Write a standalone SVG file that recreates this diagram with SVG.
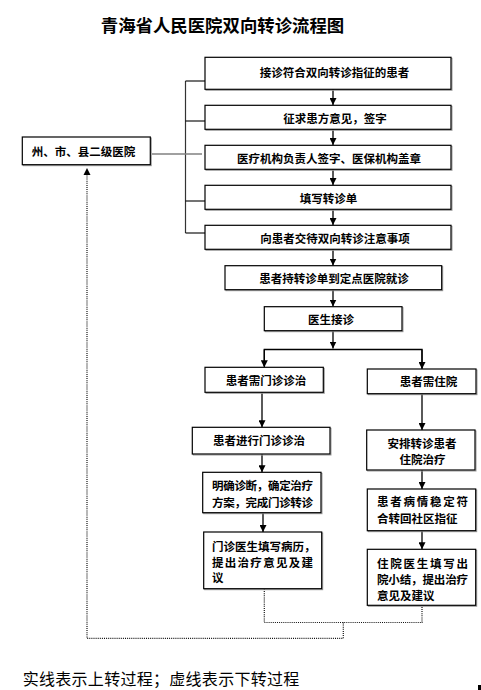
<svg xmlns="http://www.w3.org/2000/svg" width="481" height="690" viewBox="0 0 481 690">
<defs>
<marker id="ah" markerUnits="userSpaceOnUse" markerWidth="7" markerHeight="7" refX="7" refY="3.5" orient="auto">
<path d="M0,0 L7,3.5 L0,7 z" fill="#000"/>
</marker>
<style>
.box{fill:#fff;stroke:#000;stroke-width:1.2}
.sh{fill:none;stroke:#9a9a9a;stroke-width:1}
.t{font-family:"Noto Sans CJK SC","Noto Sans CJK TC",sans-serif;font-size:11.5px;font-weight:bold;fill:#000;dominant-baseline:central}
.c{text-anchor:middle}
.ln{stroke:#000;stroke-width:1.3;fill:none}
.ar{stroke:#000;stroke-width:1.3;fill:none;marker-end:url(#ah)}
.dt{stroke:#111;stroke-width:1.2;fill:none;stroke-dasharray:1,1.1}
</style>
</defs>
<rect width="481" height="690" fill="#fff"/>
<text x="222.5" y="24" style="font-family:'Noto Sans CJK SC',sans-serif;font-size:17.4px;font-weight:bold;dominant-baseline:central" text-anchor="middle" fill="#000">青海省人民医院双向转诊流程图</text>

<g id="connectors">
<line class="ln" x1="185.5" y1="81" x2="185.5" y2="233" style="stroke:#333;stroke-width:1.2"/>
<line class="ln" x1="185.5" y1="81" x2="205" y2="81" style="stroke-width:1.1"/>
<line class="ln" x1="185.5" y1="121" x2="205" y2="121" style="stroke-width:1.1"/>
<line class="ln" x1="185.5" y1="201" x2="205" y2="201" style="stroke-width:1.1"/>
<line class="ln" x1="185.5" y1="233" x2="205" y2="233" style="stroke-width:1.1"/>
<line x1="152" y1="154" x2="202" y2="154" stroke="#808080" stroke-width="1.6"/>
<line class="ar" x1="333" y1="89.5" x2="333" y2="105"/>
<line class="ar" x1="333" y1="129.5" x2="333" y2="145"/>
<line class="ar" x1="333" y1="169.5" x2="333" y2="185"/>
<line class="ar" x1="333" y1="209.5" x2="333" y2="225"/>
<line class="ar" x1="333" y1="249.5" x2="333" y2="265.5"/>
<line class="ar" x1="333" y1="289.8" x2="333" y2="306.5"/>
<line class="ar" x1="333" y1="331" x2="333" y2="348.5"/>
<polyline class="ln" points="264.3,366 264.3,349.5 422,349.5 422,368"/>
<line class="ar" x1="264.3" y1="349.5" x2="264.3" y2="367.3"/>
<line class="ar" x1="422" y1="349.5" x2="422" y2="369"/>
<line class="ar" x1="262" y1="392.5" x2="262" y2="427.3"/>
<line class="ar" x1="422" y1="394" x2="422" y2="430"/>
<line class="ar" x1="262" y1="454.2" x2="262" y2="472.3"/>
<line class="ar" x1="422" y1="470.2" x2="422" y2="489"/>
<line class="ar" x1="263" y1="513" x2="263" y2="532"/>
<line class="ar" x1="422" y1="531" x2="422" y2="549.3"/>
<polyline class="dt" points="264.3,589 264.3,622.5 422,622.5 422,605.5"/>
<polyline class="dt" points="343.3,622.5 343.3,638.3 87,638.3 87,174"/>
<path d="M83.5,175 L87,168 L90.5,175 z" fill="#000"/>
</g>

<g id="n_left">
<rect class="sh" x="23.3" y="138" width="128" height="27.7"/>
<rect class="box" x="22.3" y="137" width="128" height="27.7"/>
<text class="t c" x="83.5" y="150.5">州、市、县二级医院</text>
</g>
<g id="n1">
<rect class="sh" x="206" y="58.3" width="246" height="32"/>
<rect class="box" x="205" y="57.3" width="246" height="32"/>
<text class="t c" x="334.5" y="72">接诊符合双向转诊指征的患者</text>
</g>
<g id="n2">
<rect class="sh" x="206" y="106.3" width="246" height="24"/>
<rect class="box" x="205" y="105.3" width="246" height="24"/>
<text class="t c" x="335" y="117.7">征求患方意见，签字</text>
</g>
<g id="n3">
<rect class="sh" x="206" y="146.3" width="246" height="24"/>
<rect class="box" x="205" y="145.3" width="246" height="24"/>
<text class="t c" x="329" y="157.7">医疗机构负责人签字、医保机构盖章</text>
</g>
<g id="n4">
<rect class="sh" x="206" y="186.3" width="246" height="24"/>
<rect class="box" x="205" y="185.3" width="246" height="24"/>
<text class="t c" x="328.5" y="198.3">填写转诊单</text>
</g>
<g id="n5">
<rect class="sh" x="206" y="226.3" width="246" height="24"/>
<rect class="box" x="205" y="225.3" width="246" height="24"/>
<text class="t c" x="335" y="237.7">向患者交待双向转诊注意事项</text>
</g>
<g id="n6">
<rect class="sh" x="226" y="266.7" width="216.7" height="24"/>
<rect class="box" x="225" y="265.7" width="216.7" height="24"/>
<text class="t c" x="334" y="278.3">患者持转诊单到定点医院就诊</text>
</g>
<g id="n7">
<rect class="sh" x="265.3" y="307.7" width="137.7" height="24"/>
<rect class="box" x="264.3" y="306.7" width="137.7" height="24"/>
<text class="t c" x="331" y="319.3">医生接诊</text>
</g>
<g id="n8">
<rect class="sh" x="206" y="368.3" width="118.3" height="25"/>
<rect class="box" x="205" y="367.3" width="118.3" height="25"/>
<text class="t c" x="266" y="380">患者需门诊诊治</text>
</g>
<g id="n9">
<rect class="sh" x="368.3" y="370" width="108.7" height="24.7"/>
<rect class="box" x="367.3" y="369" width="108.7" height="24.7"/>
<text class="t c" x="428.5" y="381.3">患者需住院</text>
</g>
<g id="n10">
<rect class="sh" x="193.3" y="428.3" width="137.7" height="26.7"/>
<rect class="box" x="192.3" y="427.3" width="137.7" height="26.7"/>
<text class="t c" x="259" y="440.3">患者进行门诊诊治</text>
</g>
<g id="n11">
<rect class="sh" x="367.7" y="431" width="108.3" height="40"/>
<rect class="box" x="366.7" y="430" width="108.3" height="40"/>
<text class="t c" x="422" y="442.5">安排转诊患者</text>
<text class="t c" x="422.5" y="458.5">住院治疗</text>
</g>
<g id="n12">
<rect class="sh" x="203.7" y="473.3" width="118.3" height="40.4"/>
<rect class="box" x="202.7" y="472.3" width="118.3" height="40.4"/>
<text class="t" x="212" y="485" textLength="101" lengthAdjust="spacing">明确诊断，确定治疗</text>
<text class="t" x="212" y="501.7" textLength="101" lengthAdjust="spacing">方案，完成门诊转诊</text>
</g>
<g id="n13">
<rect class="sh" x="204.7" y="533" width="118" height="56.7"/>
<rect class="box" x="203.7" y="532" width="118" height="56.7"/>
<text class="t" x="212" y="546">门诊医生填写病历，</text>
<text class="t" x="212" y="561.5" textLength="101" lengthAdjust="spacing">提出治疗意见及建</text>
<text class="t" x="212" y="577">议</text>
</g>
<g id="n14">
<rect class="sh" x="368.3" y="490" width="108.4" height="41.7"/>
<rect class="box" x="367.3" y="489" width="108.4" height="41.7"/>
<text class="t" x="377" y="501.3" textLength="91" lengthAdjust="spacing">患者病情稳定符</text>
<text class="t" x="377" y="517.5">合转回社区指征</text>
</g>
<g id="n15">
<rect class="sh" x="368.3" y="550.3" width="108.4" height="56"/>
<rect class="box" x="367.3" y="549.3" width="108.4" height="56"/>
<text class="t" x="377" y="562.5" textLength="91" lengthAdjust="spacing">住院医生填写出</text>
<text class="t" x="377" y="578.5" textLength="91" lengthAdjust="spacing">院小结，提出治疗</text>
<text class="t" x="377" y="594.5">意见及建议</text>
</g>

<text x="22.7" y="678" textLength="276.6" lengthAdjust="spacing" style="font-family:'Noto Sans CJK SC',sans-serif;font-size:16px;dominant-baseline:central" fill="#000">实线表示上转过程；虚线表示下转过程</text>
<rect x="478" y="685" width="3" height="5" fill="#000"/>
</svg>
